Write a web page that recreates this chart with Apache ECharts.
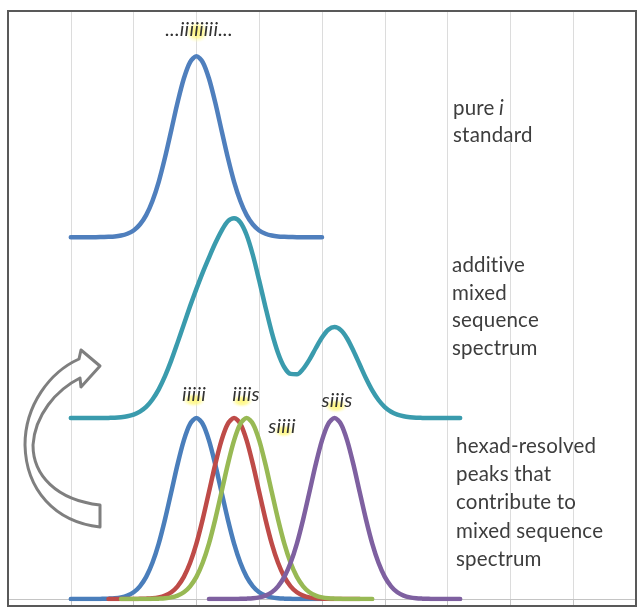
<!DOCTYPE html>
<html><head><meta charset="utf-8">
<script src="https://cdn.jsdelivr.net/npm/echarts@6/dist/echarts.min.js"></script>
<style>html,body{margin:0;padding:0;background:#fff}#c{width:642px;height:615px}</style>
</head><body><div id="c"></div>
<script>
// x positions (shared by all curves)
const xs = [1.0,1.1,1.2,1.3,1.4,1.5,1.6,1.7,1.8,1.9,
  2.0,2.1,2.2,2.3,2.4,2.5,2.6,2.7,2.8,2.9,
  3.0,3.1,3.2,3.3,3.4,3.5,3.6,3.7,3.8,3.9,
  4.0,4.1,4.2,4.3,4.4,4.5,4.6,4.7,4.8,4.9,
  5.0,5.1,5.2,5.3,5.4,5.5,5.6,5.7,5.8,5.9,
  6.0,6.1,6.2,6.3,6.4,6.5,6.6,6.7,6.8,6.9,
  7.0,7.1,7.2];
// pure i standard (top trace)
const pureStandard = [2,2,2,2,2,2.001,2.002,2.004,2.009,2.019,
  2.037,2.070,2.122,2.200,2.306,2.440,2.591,2.744,2.877,2.968,
  3,2.968,2.877,2.744,2.591,2.440,2.306,2.200,2.122,2.070,
  2.037,2.019,2.009,2.004,2.002,2.001,2,2,2,2,
  2,null,null,null,null,null,null,null,null,null,
  null,null,null,null,null,null,null,null,null,null,
  null,null,null];
// additive mixed sequence spectrum (middle trace)
const additiveSpectrum = [1,1,1,1,1,1,1.001,1.002,1.005,1.010,
  1.019,1.036,1.062,1.103,1.159,1.232,1.319,1.417,1.518,1.619,
  1.714,1.804,1.887,1.966,2.035,2.088,2.105,2.082,2.012,1.900,
  1.760,1.613,1.474,1.360,1.281,1.244,1.242,1.272,1.323,1.386,
  1.445,1.488,1.503,1.486,1.440,1.372,1.296,1.220,1.153,1.100,
  1.061,1.035,1.019,1.010,1.005,1.002,1.001,1,1,1,
  1,1,1];
// hexad-resolved peaks (bottom traces)
const peak_iiiii = [0,0,0,0,0,0.001,0.002,0.004,0.009,0.019,
  0.037,0.070,0.122,0.200,0.306,0.440,0.591,0.744,0.877,0.968,
  1,0.968,0.877,0.744,0.591,0.440,0.306,0.200,0.122,0.070,
  0.037,0.019,0.009,0.004,0.002,0.001,0,0,0,0,
  0,null,null,null,null,null,null,null,null,null,
  null,null,null,null,null,null,null,null,null,null,
  null,null,null];
const peak_iiiis = [null,null,null,null,null,null,0,0,0,0,
  0,0.001,0.002,0.004,0.009,0.019,0.037,0.070,0.122,0.200,
  0.306,0.440,0.591,0.744,0.877,0.968,1,0.968,0.877,0.744,
  0.591,0.440,0.306,0.200,0.122,0.070,0.037,0.019,0.009,0.004,
  0.002,0.001,0,0,0,0,0,null,null,null,
  null,null,null,null,null,null,null,null,null,null,
  null,null,null];
const peak_siiii = [null,null,null,null,null,null,null,null,0,0,
  0,0,0,0.001,0.002,0.004,0.009,0.019,0.037,0.070,
  0.122,0.200,0.306,0.440,0.591,0.744,0.877,0.968,1,0.968,
  0.877,0.744,0.591,0.440,0.306,0.200,0.122,0.070,0.037,0.019,
  0.009,0.004,0.002,0.001,0,0,0,0,0,null,
  null,null,null,null,null,null,null,null,null,null,
  null,null,null];
const peak_siiis = [null,null,null,null,null,null,null,null,null,null,
  null,null,null,null,null,null,null,null,null,null,
  null,null,0,0,0,0,0,0.001,0.002,0.004,
  0.009,0.019,0.037,0.070,0.122,0.200,0.306,0.440,0.591,0.744,
  0.877,0.968,1,0.968,0.877,0.744,0.591,0.440,0.306,0.200,
  0.122,0.070,0.037,0.019,0.009,0.004,0.002,0.001,0,0,
  0,0,0];
const peakLabels = ['...iiiiiiii...', 'iiiii', 'iiiis', 'siiii', 'siiis'];
const noteTop = 'pure {it|i}\nstandard';
const noteMiddle = 'additive\nmixed\nsequence\nspectrum';
const noteBottom = 'hexad-resolved\npeaks that\ncontribute to\nmixed sequence\nspectrum';

// avoid typographic ligatures (e.g. "ti") in canvas text
(function () {
  const P = CanvasRenderingContext2D.prototype;
  const ft = P.fillText;
  P.fillText = function () {
    try { if ('letterSpacing' in this) this.letterSpacing = '0.2px'; } catch (e) {}
    return ft.apply(this, arguments);
  };
})();

function pairs(ys) {
  const out = [];
  for (let i = 0; i < xs.length; i++) if (ys[i] !== null) out.push([xs[i], ys[i]]);
  return out;
}

const CurvedArrow = echarts.graphic.extendShape({
  shape: {},
  buildPath(ctx) {
    ctx.moveTo(100, 527);
    ctx.bezierCurveTo(55, 522, 26, 490, 25, 445);
    ctx.bezierCurveTo(25, 405, 50, 372, 79, 359);
    ctx.lineTo(81, 350);
    ctx.lineTo(100, 366);
    ctx.lineTo(81, 387);
    ctx.lineTo(80, 378);
    ctx.bezierCurveTo(56, 390, 35, 415, 33, 445);
    ctx.bezierCurveTo(33, 475, 56, 500, 100, 505);
    ctx.closePath();
  }
});
echarts.graphic.registerShape('curvedArrow', CurvedArrow);

const chart = echarts.init(document.getElementById('c'), null, {renderer: 'canvas'});
const FONT = 'Lato, "Open Sans", sans-serif';
const lbl = '#333333';
function glow(cx, cy, r, sy) {
  return {type: 'circle', x: cx, y: cy, scaleY: sy, z: 1, silent: true,
    shape: {cx: 0, cy: 0, r: r},
    style: {fill: {type: 'radial', x: 0.5, y: 0.5, r: 0.5, colorStops: [
      {offset: 0, color: 'rgba(255,246,110,0.95)'},
      {offset: 0.55, color: 'rgba(255,248,130,0.7)'},
      {offset: 1, color: 'rgba(255,255,200,0)'}]}}};
}
function label(t, x, y) {
  return {type: 'text', x: x, y: y, z: 5, silent: true,
    style: {text: t, fontFamily: FONT, fontSize: 20, fontStyle: 'italic', fill: lbl,
      align: 'center', verticalAlign: 'middle'}};
}
function note(t, x, y, lh) {
  return {type: 'text', x: x, y: y, z: 5, silent: true,
    style: {text: t, fontFamily: FONT, fontSize: 20.5, fill: '#3d3d3d', lineHeight: lh,
      align: 'left', verticalAlign: 'top',
      rich: {it: {fontFamily: FONT, fontSize: 20.5, fontStyle: 'italic', fill: '#3d3d3d', lineHeight: lh}}}};
}
function line(name, ys, color, z) {
  return {type: 'line', name: name, data: pairs(ys), showSymbol: false, symbol: 'none',
    smooth: 0.3, z: z,
    lineStyle: {width: 4.5, color: color, cap: 'round', join: 'round'},
    itemStyle: {color: color}};
}

chart.setOption({
  animation: false,
  backgroundColor: '#ffffff',
  grid: {left: 8, right: 6, top: 11, bottom: 16, containLabel: false},
  xAxis: {type: 'value', min: 0, max: 10, interval: 1,
    axisLine: {show: true, onZero: true, lineStyle: {color: '#c4c4c4', width: 1}},
    axisTick: {show: true, inside: false, length: 7, lineStyle: {color: '#c4c4c4'}},
    axisLabel: {show: false},
    splitLine: {show: true, lineStyle: {color: '#dcdcdc', width: 1}}},
  yAxis: {type: 'value', min: 0, max: 3.25, show: false, splitLine: {show: false}},
  series: [
    line('pure i standard', pureStandard, '#4f7fbd', 3),
    line('additive mixed sequence spectrum', additiveSpectrum, '#3a9bad', 4),
    line(peakLabels[1], peak_iiiii, '#4a7ebb', 5),
    line(peakLabels[2], peak_iiiis, '#be4b48', 6),
    line(peakLabels[3], peak_siiii, '#98b954', 7),
    line(peakLabels[4], peak_siiis, '#7e60a0', 8)
  ],
  graphic: [
    glow(197, 32, 12, 0.9),
    glow(194, 400, 12, 0.6),
    glow(242, 401, 11, 0.6),
    glow(284, 431, 11, 0.6),
    glow(336, 406, 12, 0.6),
    label(peakLabels[0], 199, 30),
    label(peakLabels[1], 194, 395),
    label(peakLabels[2], 246, 395),
    label(peakLabels[3], 282, 427),
    label(peakLabels[4], 337, 401),
    note(noteTop, 453, 95, 27),
    note(noteMiddle, 452, 252, 27.5),
    note(noteBottom, 456, 432, 28.3),
    {type: 'curvedArrow', z: 4, silent: true, shape: {},
      style: {fill: 'none', stroke: '#7f7f7f', lineWidth: 3, lineJoin: 'round'}},
    {type: 'rect', z: 10, silent: true, shape: {x: 8, y: 11, width: 628, height: 595},
      style: {fill: 'none', stroke: '#595959', lineWidth: 2}}
  ]
});
</script></body></html>
